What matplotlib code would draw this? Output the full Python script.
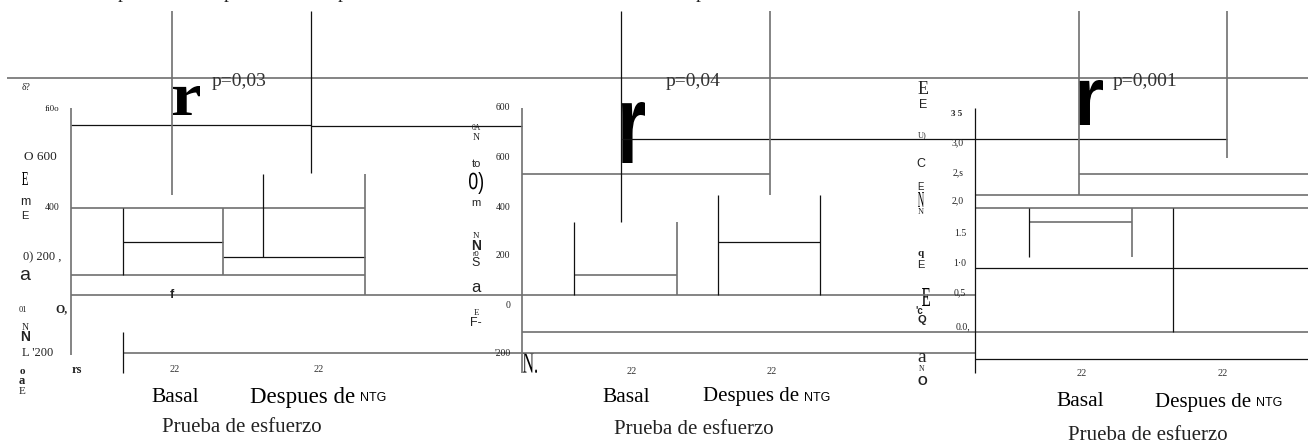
""" Scanned three-panel box figure (Prueba de esfuerzo), redrawn in pixel space. """

import matplotlib
matplotlib.use("Agg")
import matplotlib.pyplot as plt
from matplotlib.font_manager import FontProperties
from matplotlib.textpath import TextPath
from matplotlib.patches import PathPatch
from matplotlib.transforms import Affine2D

W, H = 1308, 445
GRAY = '#707070'
BLACK = '#111111'

# horizontal rules: (y, x_start, x_end, colour)
h_rules = [
    (78, 7, 1308, GRAY),
    (125, 71, 311, BLACK), (126, 311, 522, BLACK),
    (208, 71, 365, GRAY), (242, 123, 223, BLACK), (257, 223, 365, BLACK),
    (275, 71, 365, GRAY), (295, 71, 975, GRAY), (353, 123, 975, GRAY),
    (139, 622, 1227, BLACK), (174, 522, 770, GRAY), (275, 574, 677, GRAY),
    (242, 718, 820, BLACK), (332, 522, 1308, GRAY),
    (174, 1079, 1308, GRAY), (195, 975, 1308, GRAY), (208, 975, 1308, GRAY),
    (222, 1029, 1132, GRAY), (268, 975, 1308, BLACK), (359, 975, 1308, BLACK),
]

# vertical rules: (x, y_start, y_end, colour)
v_rules = [
    (71, 108, 355, GRAY), (172, 11, 195, GRAY), (311, 11, 173, BLACK),
    (123, 208, 275, BLACK), (223, 208, 275, GRAY), (263, 174, 257, BLACK),
    (365, 174, 295, GRAY), (123, 332, 373, BLACK),
    (522, 108, 373, GRAY), (621, 11, 222, BLACK), (770, 11, 195, GRAY),
    (574, 222, 295, BLACK), (677, 222, 295, GRAY), (718, 195, 295, BLACK),
    (820, 195, 295, BLACK),
    (975, 108, 373, BLACK), (1079, 11, 195, GRAY), (1227, 11, 158, GRAY),
    (1029, 208, 257, BLACK), (1132, 208, 257, GRAY), (1173, 208, 332, BLACK),
]

# loose text fragments: (x, y, text, size, family, weight)
S, N = 'Liberation Serif', 'Liberation Sans'
axis_texts = [
    # panel 1
    (26, 88, 'δ?', 7, S, 'normal'), (52, 109, 'fi0o', 6.5, S, 'normal'),
    (40, 157, 'O 600', 9.5, S, 'normal'), (25, 202, 'm', 9, N, 'normal'),
    (25, 216, 'E', 8, N, 'normal'), (52, 207, '400', 7, S, 'normal'),
    (42, 257, '0) 200 ,', 9, S, 'normal'), (25, 276, 'a', 14, N, 'normal'),
    (23, 310, '01', 6, S, 'normal'), (62, 309, 'O,', 8.5, S, 'bold'),
    (25, 327, 'N', 7, S, 'normal'), (25, 337, 'N', 10, N, 'bold'),
    (38, 353, "L '200", 9, S, 'normal'), (22, 371, 'o', 8, S, 'bold'),
    (22, 381, 'a', 9, S, 'bold'), (22, 392, 'E', 8, S, 'normal'),
    (77, 370, 'rs', 9, S, 'bold'), (172, 295, 'f', 9, N, 'bold'),
    # panel 2
    (503, 108, '600', 7, S, 'normal'), (476, 128, '0A', 5.5, S, 'normal'),
    (476, 137, 'N', 7, S, 'normal'), (476, 164, 'to', 8, N, 'normal'),
    (503, 157, '600', 7, S, 'normal'), (476, 203, 'm', 8, N, 'normal'),
    (503, 207, '400', 7, S, 'normal'), (476, 236, 'N', 6.5, S, 'normal'),
    (476, 246, 'N', 10, N, 'bold'), (476, 255, 'r0', 5.5, N, 'normal'),
    (476, 263, 'S', 9, N, 'normal'), (503, 255, '200', 7, S, 'normal'),
    (476, 288, 'a', 12, N, 'normal'), (508, 306, '0', 7, S, 'normal'),
    (476, 313, 'E', 6.5, S, 'normal'), (476, 323, 'F-', 9, N, 'normal'),
    (503, 353, "'200", 7, S, 'normal'),
    # panel 3
    (923, 90, 'E', 13, S, 'normal'), (923, 105, 'E', 9, N, 'normal'),
    (957, 114, '3 5', 6.5, S, 'bold'), (922, 135, 'U)', 6, S, 'normal'),
    (958, 143, '3,0', 7, S, 'normal'), (921, 164, 'C', 9, N, 'normal'),
    (958, 173, '2,s', 7, S, 'normal'), (921, 187, 'E', 7, N, 'normal'),
    (921, 212, 'N', 6, S, 'normal'), (958, 201, '2,0', 7, S, 'normal'),
    (960, 234, '1.5', 7, S, 'normal'), (921, 254, 'q', 8, S, 'bold'),
    (921, 265, 'E', 8, N, 'normal'), (960, 263, '1·0', 7, S, 'normal'),
    (960, 293, '0,5', 7, S, 'normal'), (919, 311, "'c", 7, N, 'bold'),
    (922, 320, 'Q', 8, N, 'bold'), (963, 327, '0.0,', 7, S, 'normal'),
    (922, 358, 'a', 14, S, 'normal'), (922, 369, 'N', 5.5, S, 'normal'),
    (922, 382, 'O', 9, N, 'bold'),
    # clipped descenders along the top edge
    (123, -2, 'p', 14, S, 'normal'), (228, -2, 'p', 14, S, 'normal'),
    (343, -2, 'p', 14, S, 'normal'), (700, -2, 'p', 14, S, 'normal'),
]

# stretched glyphs: (text, family, weight, x0, x1, y_top, y_bottom)
big_glyphs = [
    ('r', S, 'bold', 173, 200, 86, 115),
    ('r', N, 'bold', 622, 645, 102, 163),
    ('r', N, 'bold', 1079, 1103, 80, 125),
    ('E', S, 'normal', 22, 28, 172, 185),
    ('0)', N, 'normal', 469, 483, 172, 194),
    ('N.', S, 'normal', 523, 537, 353, 373),
    ('N', S, 'normal', 918, 924, 192, 207),
    ('E', S, 'normal', 922, 930, 288, 306),
]

p_values = ['p=0,03', 'p=0,04', 'p=0,001']
p_xy = [(212, 82), (666, 82), (1113, 82)]
group_n = ['22', '22']
n_y = [370, 371, 374]
n_x = [(175, 319), (632, 772), (1082, 1223)]
group_labels = ['Basal', 'Despues de', 'NTG']
label_xy = [(175, 250, 397), (626, 703, 397), (1080, 1155, 402)]
label_size = [16.5, 15, 15]
x_title = 'Prueba de esfuerzo'
title_xy = [(242, 428), (694, 430), (1148, 436)]


def stretched(ax, text, family, weight, x0, x1, y0, y1):
    tp = TextPath((0, 0), text, size=1, prop=FontProperties(family=family, weight=weight))
    bb = tp.get_extents()
    tr = (Affine2D().translate(-bb.x0, -bb.y0)
          .scale((x1 - x0) / bb.width, -(y1 - y0) / bb.height)
          .translate(x0, y1))
    ax.add_patch(PathPatch(tr.transform_path(tp), facecolor='black', lw=0))


def main():
    fig = plt.figure(figsize=(W / 100, H / 100), dpi=100)
    ax = fig.add_axes([0, 0, 1, 1])
    ax.set_xlim(0, W)
    ax.set_ylim(H, 0)
    ax.axis('off')

    for y, xa, xb, c in h_rules:
        ax.plot([xa, xb], [y, y], color=c, lw=1.2 if c == GRAY else 0.9,
                solid_capstyle='butt')
    for x, ya, yb, c in v_rules:
        ax.plot([x, x], [ya, yb], color=c, lw=1.2 if c == GRAY else 0.9,
                solid_capstyle='butt')

    for x, y, s, size, fam, wt in axis_texts:
        va = 'baseline' if s == 'p' else 'center'
        ax.text(x, y, s, fontsize=size, family=fam, weight=wt, color='#222222',
                ha='center', va=va)

    for g in big_glyphs:
        stretched(ax, *g)

    renderer = fig.canvas.get_renderer()
    for i in range(3):
        ax.text(p_xy[i][0], p_xy[i][1], p_values[i], fontsize=14, family=S,
                color='#333333', ha='left', va='center')
        for j in range(2):
            ax.text(n_x[i][j], n_y[i], group_n[j], fontsize=7.5, family=S,
                    color='#333333', ha='center', va='center')
        bx, dx, ly = label_xy[i]
        ax.text(bx, ly, group_labels[0], fontsize=15.5, family=S, ha='center', va='center')
        t = ax.text(dx, ly, group_labels[1], fontsize=label_size[i], family=S,
                    ha='left', va='center')
        end_x = t.get_window_extent(renderer).x1  # pixels == data x here
        ax.text(end_x + 5, ly + 1, group_labels[2], fontsize=9, family=N,
                ha='left', va='center')
        ax.text(title_xy[i][0], title_xy[i][1], x_title, fontsize=15, family=S,
                color='#222222', ha='center', va='center')

    fig.savefig('out.png', dpi=100)


if __name__ == "__main__":
    main()
